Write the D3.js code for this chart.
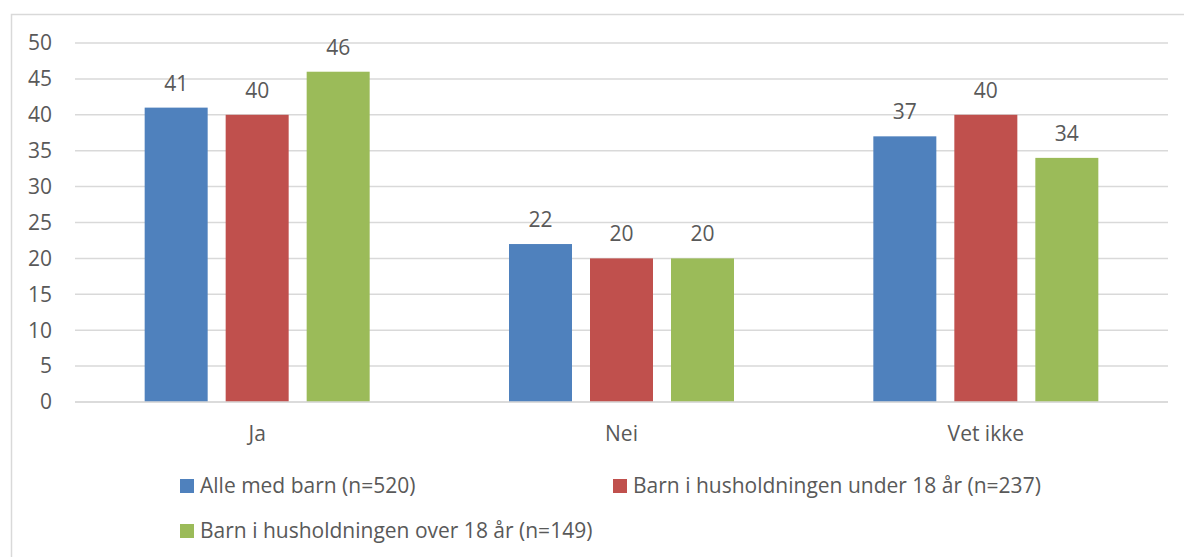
<!DOCTYPE html>
<html><head><meta charset="utf-8">
<script src="https://cdn.jsdelivr.net/npm/d3@7"></script>
<style>body{margin:0;background:#fff}svg{display:block}text{font-family:"Open Sans",sans-serif;fill:#595959}</style>
</head><body><svg id="c" width="1184" height="557"></svg>
<script>
const categories = ["Ja", "Nei", "Vet ikke"];
const seriesNames = ["Alle med barn (n=520)", "Barn i husholdningen under 18 år (n=237)", "Barn i husholdningen over 18 år (n=149)"];
const allMedBarn = [41, 22, 37];
const under18 = [40, 20, 40];
const over18 = [46, 20, 34];
const yTicks = [0, 5, 10, 15, 20, 25, 30, 35, 40, 45, 50];
const colors = ["#4F81BD", "#C0504D", "#9BBB59"];
const seriesValues = [allMedBarn, under18, over18];
const FS = 21;

const svg = d3.select("#c");
svg.append("rect").attr("x", 11.5).attr("y", 14.5).attr("width", 1200).attr("height", 600)
  .attr("fill", "none").attr("stroke", "#d9d9d9").attr("stroke-width", 1.5);

const x0 = d3.scaleBand().domain(categories).range([75, 1168]);
const y = d3.scaleLinear().domain([0, 50]).range([402, 43]);
const barW = 63, step = 81;

const g = svg.append("g");
g.selectAll("line.grid").data(yTicks).join("line")
  .attr("x1", 75).attr("x2", 1168).attr("y1", d => y(d)).attr("y2", d => y(d))
  .attr("stroke", "#d9d9d9").attr("stroke-width", 1.5);

g.selectAll("text.ytick").data(yTicks).join("text")
  .attr("x", 52).attr("y", d => y(d)).attr("dy", "0.35em").attr("text-anchor", "end")
  .attr("font-size", FS).text(d => d);

seriesValues.forEach((vals, si) => {
  const cx = c => x0(c) + x0.bandwidth() / 2 + (si - 1) * step;
  g.selectAll("rect.s" + si).data(categories).join("rect")
    .attr("x", c => cx(c) - barW / 2).attr("width", barW)
    .attr("y", (c, i) => y(vals[i])).attr("height", (c, i) => y(0) - y(vals[i]))
    .attr("fill", colors[si]);
  g.selectAll("text.l" + si).data(categories).join("text")
    .attr("x", c => cx(c)).attr("y", (c, i) => y(vals[i]) - 17)
    .attr("text-anchor", "middle").attr("font-size", FS).text((c, i) => vals[i]);
});
g.append("line").attr("x1", 75).attr("x2", 1168).attr("y1", y(0)).attr("y2", y(0))
  .attr("stroke", "#d9d9d9").attr("stroke-width", 1.5);

g.selectAll("text.cat").data(categories).join("text")
  .attr("x", c => x0(c) + x0.bandwidth() / 2).attr("y", 434).attr("dy", "0.35em")
  .attr("text-anchor", "middle").attr("font-size", FS).text(c => c);

const legendPos = [[180, 486], [613, 486], [180, 531]];
seriesNames.forEach((n, i) => {
  const [lx, ly] = legendPos[i];
  svg.append("rect").attr("x", lx).attr("y", ly - 7).attr("width", 14).attr("height", 14).attr("fill", colors[i]);
  svg.append("text").attr("x", lx + 20).attr("y", ly).attr("dy", "0.35em").attr("font-size", FS).text(n);
});
</script></body></html>
